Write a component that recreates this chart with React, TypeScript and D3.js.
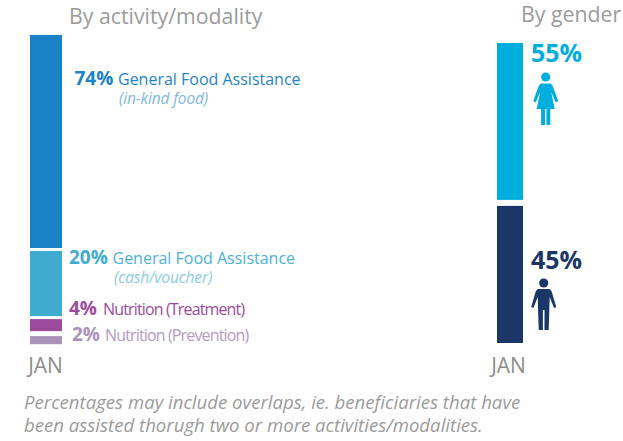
import * as d3 from "d3";

const WIDTH = 623;
const HEIGHT = 441;
const FONT = "'Open Sans', sans-serif";

// bar heights as drawn in the picture (they differ a bit from the printed labels)
const activityNames = ["General Food Assistance", "General Food Assistance", "Nutrition (Treatment)", "Nutrition (Prevention)"];
const activityNotes = ["(in-kind food)", "(cash/voucher)", "", ""];
const activityLabels = ["74%", "20%", "4%", "2%"];
const activityDrawn = [71, 21.7, 4, 2.7];
const activityGaps = [3, 3, 5, 0];
const activityColors = ["#1a82c6", "#3fabcf", "#9c4a9c", "#aa92b8"];
const activityNameColors = ["#1f84c6", "#4cb1d6", "#9c4a9c", "#b09cc0"];
const activityNoteColors = ["#7fb9e2", "#8ccbe6", "", ""];

const genderLabels = ["55%", "45%"];
const genderDrawn = [52.3, 45.7];
const genderGaps = [6, 0];
const genderColors = ["#00aede", "#1a3768"];

const period = "JAN";
const footnote = [
  "Percentages may include overlaps, ie. beneficiaries that have",
  "been assisted thorugh two or more activities/modalities.",
];

// label placement, one per bar
const activityLabelX = [74.5, 69, 69, 72];
const activityNameX = [118, 112.5, 103, 105];
const activityBaseline = [85, 264, 315, 341];
const activityNoteX = [119, 114];
const activityNoteY = [104, 283];

function stackBars(values: number[], y0: number, scale: d3.ScaleLinear<number, number>, gaps: number[]) {
  let y = y0;
  return values.map((v, i) => {
    const h = scale(v);
    const bar = { y, h };
    y += h + gaps[i];
    return bar;
  });
}

function Female({ x, y, fill }: { x: number; y: number; fill: string }) {
  return (
    <g transform={`translate(${x},${y})`} fill={fill}>
      <circle cx={0} cy={0} r={4.6} />
      <path d="M-5 6.5 L5 6.5 L7 9 L12.5 24 L10 25.5 L5.5 15 L9 32 L4.6 32 L4.6 48 L0.7 48 L0.7 32 L-0.7 32 L-0.7 48 L-4.6 48 L-4.6 32 L-9 32 L-5.5 15 L-10 25.5 L-12.5 24 L-7 9 Z" />
    </g>
  );
}

function Male({ x, y, fill }: { x: number; y: number; fill: string }) {
  return (
    <g transform={`translate(${x},${y})`} fill={fill}>
      <circle cx={0} cy={0} r={4.6} />
      <path d="M-6 6 L6 6 L8 8.5 L12.5 24 L10.3 25 L6 14 L5 47 L0.8 47 L0.8 27 L-0.8 27 L-0.8 47 L-5 47 L-6 14 L-10.3 25 L-12.5 24 L-8 8.5 Z" />
    </g>
  );
}

export default function App() {
  const yScale = d3.scaleLinear().domain([0, 100]).range([0, 300]);
  const activityBars = stackBars(activityDrawn, 35, yScale, activityGaps);
  const genderBars = stackBars(genderDrawn, 43, yScale, genderGaps);

  return (
    <svg
      width={WIDTH}
      height={HEIGHT}
      style={{ position: "absolute", left: 0, top: 0, background: "#fff" }}
      fontFamily={FONT}
    >
      <text x={69} y={24} fontSize={21.3} fill="#9b9b9b">By activity/modality</text>
      <text x={521} y={22} fontSize={21.3} fill="#9b9b9b">By gender</text>

      {activityBars.map((b, i) => (
        <g key={i}>
          <rect x={30} y={b.y} width={32} height={b.h} fill={activityColors[i]} />
          <text x={activityLabelX[i]} y={activityBaseline[i]} fontSize={19} fontWeight={700} fill={activityColors[i]}>
            {activityLabels[i]}
          </text>
          <text x={activityNameX[i]} y={activityBaseline[i]} fontSize={16} letterSpacing={i > 1 ? -0.85 : 0} fill={activityNameColors[i]}>
            {activityNames[i]}
          </text>
          {activityNotes[i] && (
            <text x={activityNoteX[i]} y={activityNoteY[i]} fontSize={15.5} fontStyle="italic" letterSpacing={-0.15} fill={activityNoteColors[i]}>
              {activityNotes[i]}
            </text>
          )}
        </g>
      ))}

      {genderBars.map((b, i) => (
        <g key={i}>
          <rect x={497} y={b.y} width={26} height={b.h} fill={genderColors[i]} />
          <text x={531} y={i === 0 ? 62 : 269} fontSize={25} fontWeight={700} fill={genderColors[i]}>
            {genderLabels[i]}
          </text>
        </g>
      ))}
      <Female x={545.7} y={77} fill={genderColors[0]} />
      <Male x={543.7} y={283} fill={genderColors[1]} />

      <text x={45.5} y={373} fontSize={21} textAnchor="middle" fill="#8c8c8c">{period}</text>
      <text x={508.5} y={373} fontSize={21} textAnchor="middle" fill="#8c8c8c">{period}</text>

      {footnote.map((line, i) => (
        <text key={i} x={24} y={409 + i * 23} fontSize={18.6} fontStyle="italic" fill="#9b9b9b">
          {line}
        </text>
      ))}
    </svg>
  );
}
